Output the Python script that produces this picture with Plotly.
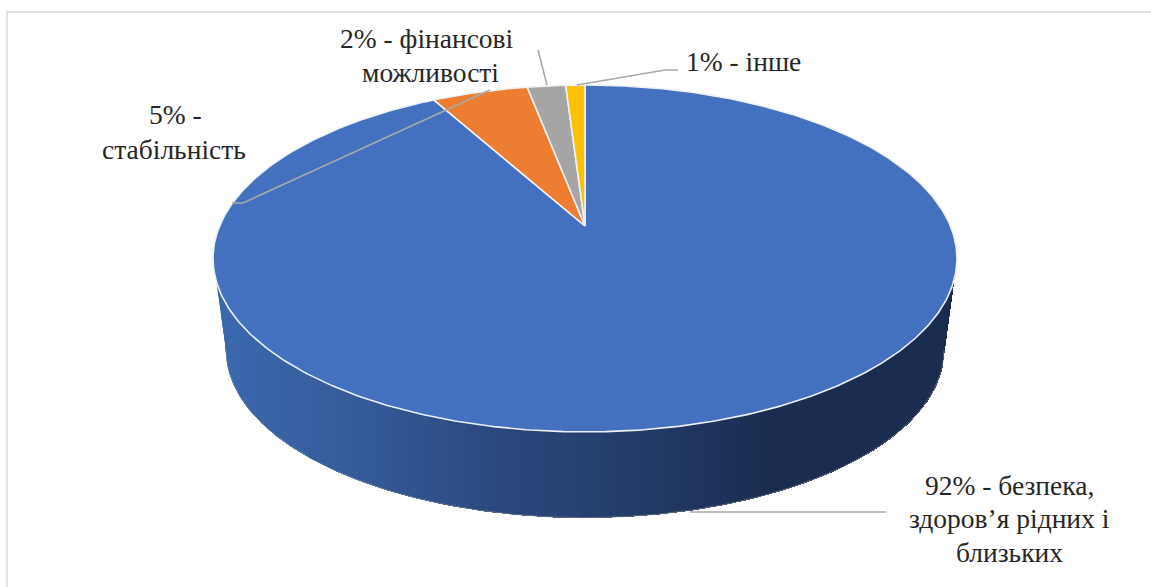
import numpy as np
import plotly.graph_objects as go

categories = ["безпека, здоров’я рідних і близьких", "стабільність", "фінансові можливості", "інше"]
values = [92, 5, 2, 1]
colors = ["#4371bf", "#ed7d31", "#a5a5a5", "#ffc000"]

# label text lines: (text, centre x, centre y) in picture space
label_lines = [
    ("92% - безпека,", 1009, 485),
    ("здоров’я рідних і", 1009, 518),
    ("близьких", 1009, 552),
    ("5% -", 175, 114),
    ("стабільність", 174, 149),
    ("2% - фінансові", 427, 38),
    ("можливості", 430, 72),
    ("1% - інше", 743, 61),
]
leaders = [
    ([690, 886], [512, 512]),
    ([232, 243, 490], [203, 203, 90]),
    ([538, 547], [50, 85]),
    ([678, 665, 577], [70, 70, 85]),
]

# perspective of the disc
HX, HY, A, B, K = 585.0, 226.0, 365.4, 167.4, 0.187
S, DY = 0.965, 93.0


def top(t):
    t = np.asarray(t)
    w = 1 + K * np.cos(t)
    return HX + A * np.sin(t) / w, HY - B * np.cos(t) / w


def bottom(t):
    x, y = top(t)
    return HX + (x - HX) * S, HY + DY + (y - HY) * S


stops_x = [215, 350, 490, 600, 700, 770, 960]
stops_r = [0x3c, 0x36, 0x2c, 0x26, 0x1f, 0x1a, 0x1a]
stops_g = [0x69, 0x5c, 0x4a, 0x40, 0x35, 0x2d, 0x2d]
stops_b = [0xaf, 0x9c, 0x80, 0x6f, 0x5e, 0x50, 0x50]


def side_color(x):
    return "rgb(%d,%d,%d)" % (
        np.interp(x, stops_x, stops_r),
        np.interp(x, stops_x, stops_g),
        np.interp(x, stops_x, stops_b),
    )


fig = go.Figure()

# rim of the disc: overlapping bands, each painted from its left edge to the right end
t0 = np.pi / 2 + np.arcsin(K)
sil = np.linspace(2 * np.pi - t0, t0, 400)     # left to right along the front
tx, ty = top(sil)
bx, by = bottom(sil)
grid = np.linspace(tx[0], tx[-1], 500)
upper = np.interp(grid, tx, ty)
lower = np.interp(grid, np.r_[tx[0], bx, tx[-1]], np.r_[ty[0], by, ty[-1]])
for x0 in np.arange(tx[0], tx[-1], 4.0):
    mask = grid >= x0
    gx = np.r_[x0, grid[mask]]
    up = np.r_[np.interp(x0, grid, upper), upper[mask]]
    lo = np.r_[np.interp(x0, grid, lower), lower[mask]]
    c = side_color(x0 + 2)
    fig.add_trace(go.Scatter(
        x=np.r_[gx, gx[::-1], gx[0]], y=np.r_[up, lo[::-1], up[0]],
        mode="lines", fill="toself", fillcolor=c,
        line=dict(color=c, width=0), hoverinfo="skip", showlegend=False))

# soft edge of the lower rim
fig.add_trace(go.Scatter(x=bx, y=by, mode="lines", line=dict(color="rgba(150,150,150,0.55)", width=1),
                         hoverinfo="skip", showlegend=False))

# top slices, clockwise from twelve o'clock
start = 0.0
total = sum(values)
for name, v, col in zip(categories, values, colors):
    end = start + 2 * np.pi * v / total
    ts = np.linspace(start, end, max(int(v * 6), 8))
    x, y = top(ts)
    fig.add_trace(go.Scatter(
        x=np.r_[HX, x, HX], y=np.r_[HY, y, HY], mode="lines", fill="toself", fillcolor=col,
        line=dict(color="#eef1f6", width=1.6), name=name, hoverinfo="name", showlegend=False))
    start = end

# leader lines
for lx, ly in leaders:
    fig.add_trace(go.Scatter(x=lx, y=ly, mode="lines", line=dict(color="#a9a9a9", width=1.6),
                             hoverinfo="skip", showlegend=False))

# chart frame
fig.add_trace(go.Scatter(x=[7, 7, 1151], y=[587, 12, 12], mode="lines",
                         line=dict(color="#e2e4e4", width=2), hoverinfo="skip", showlegend=False))

for text, cx, cy in label_lines:
    fig.add_annotation(x=cx, y=cy, text=text, showarrow=False, xanchor="center", yanchor="middle",
                       font=dict(family="Liberation Serif", size=27.5, color="#262626"))

fig.update_layout(
    width=1151, height=587, autosize=False, margin=dict(l=0, r=0, t=0, b=0),
    paper_bgcolor="white", plot_bgcolor="white",
    xaxis=dict(range=[0, 1151], visible=False, fixedrange=True),
    yaxis=dict(range=[587, 0], visible=False, fixedrange=True),
)

fig.write_html("out.html", config=dict(displayModeBar=False),
               post_script="document.body.style.margin='0';document.body.style.overflow='hidden';")
